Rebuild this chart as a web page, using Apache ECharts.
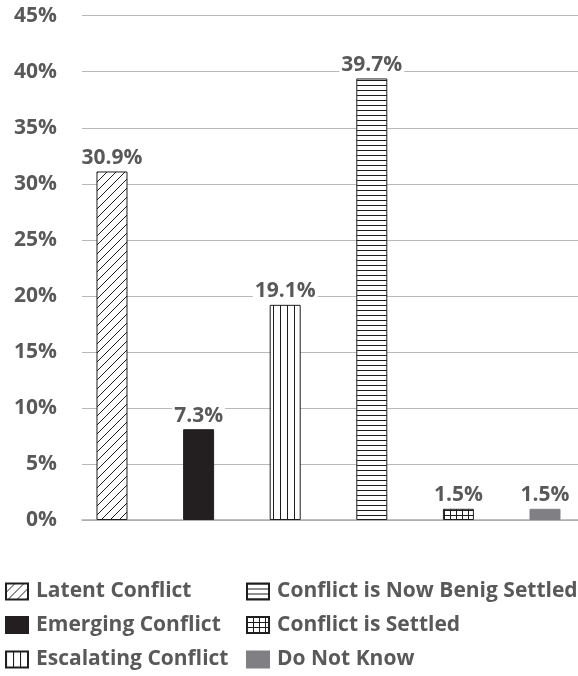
<!DOCTYPE html>
<html><head><meta charset="utf-8">
<script src="https://cdn.jsdelivr.net/npm/echarts@6/dist/echarts.min.js"></script>
<style>html,body{margin:0;padding:0;background:#fff}#c{width:578px;height:676px}</style>
</head><body><div id="c"></div>
<script>
// ---- data ----
const categories = ['Latent Conflict', 'Emerging Conflict', 'Escalating Conflict',
  'Conflict is Now Benig Settled', 'Conflict is Settled', 'Do Not Know'];
const barValues = [31.1, 8.1, 19.2, 39.4, 1.0, 1.0];          // bar heights as drawn
const valueLabels = ['30.9%', '7.3%', '19.1%', '39.7%', '1.5%', '1.5%']; // printed labels
const yMin = 0, yMax = 45, yStep = 5;                          // y ticks 0%..45%

// ---- pattern tiles ----
function tile(w, h, draw) {
  const c = document.createElement('canvas');
  c.width = w; c.height = h;
  const g = c.getContext('2d');
  g.fillStyle = '#fff'; g.fillRect(0, 0, w, h);
  g.fillStyle = '#1e1e1e'; g.strokeStyle = '#1e1e1e'; g.lineWidth = 1;
  draw(g, w, h);
  return { image: c, repeat: 'repeat' };
}
const diag = tile(9, 9, (g, w, h) => {
  g.beginPath();
  g.moveTo(-1, h + 1); g.lineTo(w + 1, -1);
  g.moveTo(-2, 1); g.lineTo(1, -2);
  g.moveTo(w - 1, h + 2); g.lineTo(w + 2, h - 1);
  g.stroke();
});
const vert = tile(7, 4, (g, w, h) => { g.fillRect(0, 0, 1, h); });
const horiz = tile(4, 5, (g, w, h) => { g.fillRect(0, 0, w, 1); });
const grid = tile(6, 5, (g, w, h) => { g.fillRect(0, 0, 1, h); g.fillRect(0, 0, w, 1); });

const fills = [diag, '#231f20', vert, horiz, grid, '#807f83'];
const borders = ['#1e1e1e', '#231f20', '#1e1e1e', '#1e1e1e', '#1e1e1e', '#807f83'];

const FONT = 'Open Sans';
const TXT = '#595959';
const FS = 21;

const chart = echarts.init(document.getElementById('c'), null, { renderer: 'canvas' });

const series = categories.map((name, i) => ({
  name: name,
  type: 'bar',
  data: [[i, barValues[i]]],
  barWidth: 31,
  barGap: '-100%',
  itemStyle: { color: fills[i], borderColor: borders[i], borderWidth: 1 },
  label: {
    show: true, position: 'top', distance: 3,
    formatter: valueLabels[i],
    color: TXT, fontSize: FS, fontWeight: 'bold', fontFamily: FONT,
    backgroundColor: '#fff', padding: [0, 2, 0, 2]
  }
}));

const legendText = { color: TXT, fontSize: FS, fontWeight: 'bold', fontFamily: FONT, padding: [0, 0, 0, 3] };
// one legend entry per box: column x, row top
const legendCols = [0, 241];
const legendRowTops = [576, 609.5, 644];
const legends = categories.map((name, i) => ({
  orient: 'horizontal',
  left: legendCols[Math.floor(i / 3)],
  top: legendRowTops[i % 3],
  itemWidth: 22, itemHeight: 16, icon: 'rect',
  selectedMode: false, data: [name], textStyle: legendText
}));

chart.setOption({
  animation: false,
  grid: { left: 82, right: 0, top: 15.7, bottom: 156 },
  xAxis: {
    type: 'value', min: -0.3464, max: 5.381,
    axisLabel: { show: false }, axisTick: { show: false },
    splitLine: { show: false },
    axisLine: { show: true, lineStyle: { color: '#ababab', width: 1.5 } }
  },
  yAxis: {
    type: 'value', min: yMin, max: yMax, interval: yStep,
    axisLine: { show: false }, axisTick: { show: false },
    axisLabel: { formatter: '{value}%', margin: 25, color: TXT, fontSize: FS, fontWeight: 'bold', fontFamily: FONT },
    splitLine: { lineStyle: { color: '#b8b8b8', width: 1 } }
  },
  legend: legends,
  series: series
});
</script></body></html>
